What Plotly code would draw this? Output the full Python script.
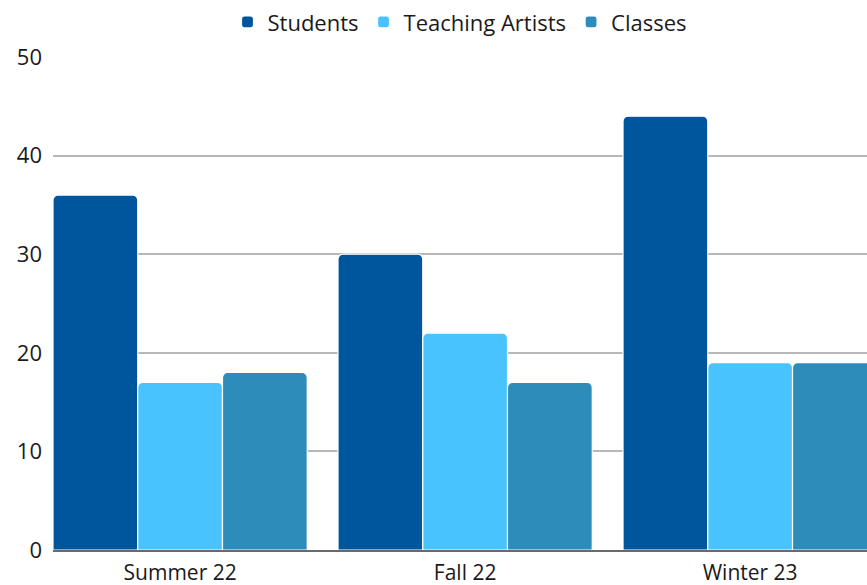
import plotly.graph_objects as go

categories = ["Summer 22", "Fall 22", "Winter 23"]
students = [36, 30, 44]
teaching_artists = [17, 22, 19]
classes = [18, 17, 19]

series_names = ["Students", "Teaching Artists", "Classes"]
colors = ["#00569d", "#48c3fd", "#2e8cbb"]

fig = go.Figure()
for name, vals, col in zip(series_names, [students, teaching_artists, classes], colors):
    fig.add_trace(go.Bar(
        x=list(range(len(categories))), y=vals, name=name,
        marker=dict(color=col, line=dict(color="white", width=1.2), cornerradius=5),
    ))

fig.update_layout(
    width=867, height=585,
    margin=dict(l=53, r=0, t=57, b=35, autoexpand=False),
    plot_bgcolor="white", paper_bgcolor="white",
    barmode="group", bargap=0.108, bargroupgap=0,
    font=dict(family="Open Sans, sans-serif", size=22, color="#1a1a1a"),
    legend=dict(orientation="h", x=0.5, xanchor="center", y=0.998, yanchor="top",
                yref="container", font=dict(size=22), itemwidth=30, traceorder="normal"),
    showlegend=True,
)
fig.update_xaxes(
    tickmode="array", tickvals=list(range(len(categories))), ticktext=categories,
    range=[-0.446, 2.41], showgrid=False, showline=True, linecolor="#6a6a6a", linewidth=1.5,
    layer="above traces", ticks="", tickfont=dict(size=21), ticklabelstandoff=3,
)
fig.update_yaxes(
    range=[0, 50], dtick=10, showgrid=True, gridcolor="#b8b8b8", gridwidth=1.5,
    zeroline=False, ticks="", ticklabelstandoff=10, tickfont=dict(size=22),
)
fig.write_html("out.html", config={"displayModeBar": False},
               post_script="document.body.style.margin='0';document.body.style.overflow='hidden';")
